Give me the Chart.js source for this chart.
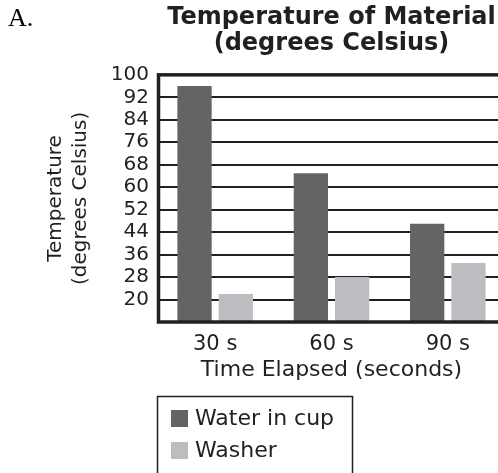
<!DOCTYPE html>
<html>
<head>
<meta charset="utf-8">
<script src="https://cdn.jsdelivr.net/npm/chart.js@4"></script>
<style>
  html, body { margin: 0; padding: 0; background: #fff; overflow: hidden; }
  #wrap { position: relative; width: 506px; height: 473px; }
  #label { position: absolute; left: 8px; top: 3px; font: 26px "Liberation Serif", serif; color: #000; }
</style>
</head>
<body>
<div id="wrap">
  <canvas id="chart" width="506" height="473"></canvas>
  <div id="label">A.</div>
</div>
<script>
const categories = ['30 s', '60 s', '90 s'];
const waterValues = [96, 65, 47];
const washerValues = [22, 28, 33];
const yTicks = [20, 28, 36, 44, 52, 60, 68, 76, 84, 92, 100];

const INK = '#231f20';
const FONT = 'DejaVu Sans, Verdana, sans-serif';

// Thick frame round the plot
const framePlugin = {
    id: 'frame',
    afterDatasetsDraw(chart) {
        const { ctx, chartArea: a } = chart;
        ctx.save();
        ctx.strokeStyle = INK;
        ctx.lineWidth = 3.5;
        ctx.strokeRect(a.left + 1.5, a.top, a.right - a.left, a.bottom - a.top);
        ctx.restore();
    }
};

// Boxed legend under the x title
const legendBoxPlugin = {
    id: 'legendBox',
    afterDraw(chart) {
        const ctx = chart.ctx;
        ctx.save();
        ctx.strokeStyle = INK;
        ctx.lineWidth = 1.5;
        ctx.strokeRect(157.5, 396.5, 195, 90);
        ctx.font = '22px ' + FONT;
        ctx.textBaseline = 'middle';
        chart.data.datasets.forEach((ds, i) => {
            const y = 410 + i * 32;
            ctx.fillStyle = ds.backgroundColor;
            ctx.fillRect(171, y, 17, 17);
            ctx.fillStyle = INK;
            ctx.fillText(ds.label, 195, y + 9);
        });
        ctx.restore();
    }
};

new Chart(document.getElementById('chart'), {
    type: 'bar',
    data: {
        labels: categories,
        datasets: [
            { label: 'Water in cup', data: waterValues, backgroundColor: '#636466' },
            { label: 'Washer', data: washerValues, backgroundColor: '#bcbdc0' }
        ]
    },
    options: {
        responsive: false,
        animation: false,
        layout: { padding: 0 },
        datasets: { bar: { categoryPercentage: 0.71, barPercentage: 0.83 } },
        plugins: {
            legend: { display: false },
            tooltip: { enabled: false },
            title: {
                display: true,
                fullSize: false,
                text: ['Temperature of Material', '(degrees Celsius)'],
                color: INK,
                font: { family: FONT, size: 24, weight: 'bold', lineHeight: 1.08 },
                padding: { top: 5, bottom: 18 }
            }
        },
        scales: {
            x: {
                grid: { display: false },
                border: { display: false },
                ticks: { color: INK, font: { family: FONT, size: 21 }, padding: 2 },
                title: {
                    display: true,
                    text: 'Time Elapsed (seconds)',
                    color: INK,
                    font: { family: FONT, size: 22 },
                    padding: { top: 0, bottom: 90 }
                },
                afterFit(s) { s.height = 151; }
            },
            y: {
                min: 12,
                max: 100,
                afterBuildTicks(s) { s.ticks = [12].concat(yTicks).map(v => ({ value: v })); },
                grid: { color: INK, lineWidth: 2, drawTicks: false },
                border: { display: false },
                ticks: {
                    autoSkip: false,
                    color: INK,
                    padding: 8,
                    font: { family: FONT, size: 20, lineHeight: 1 },
                    callback: v => yTicks.includes(v) ? v : ''
                },
                title: {
                    display: true,
                    text: ['Temperature', '(degrees Celsius)'],
                    color: INK,
                    font: { family: FONT, size: 20, lineHeight: 1.25 },
                    padding: { top: 43, bottom: 0 }
                },
                afterFit(s) { s.width = 157; }
            }
        }
    },
    plugins: [framePlugin, legendBoxPlugin]
});
</script>
</body>
</html>
